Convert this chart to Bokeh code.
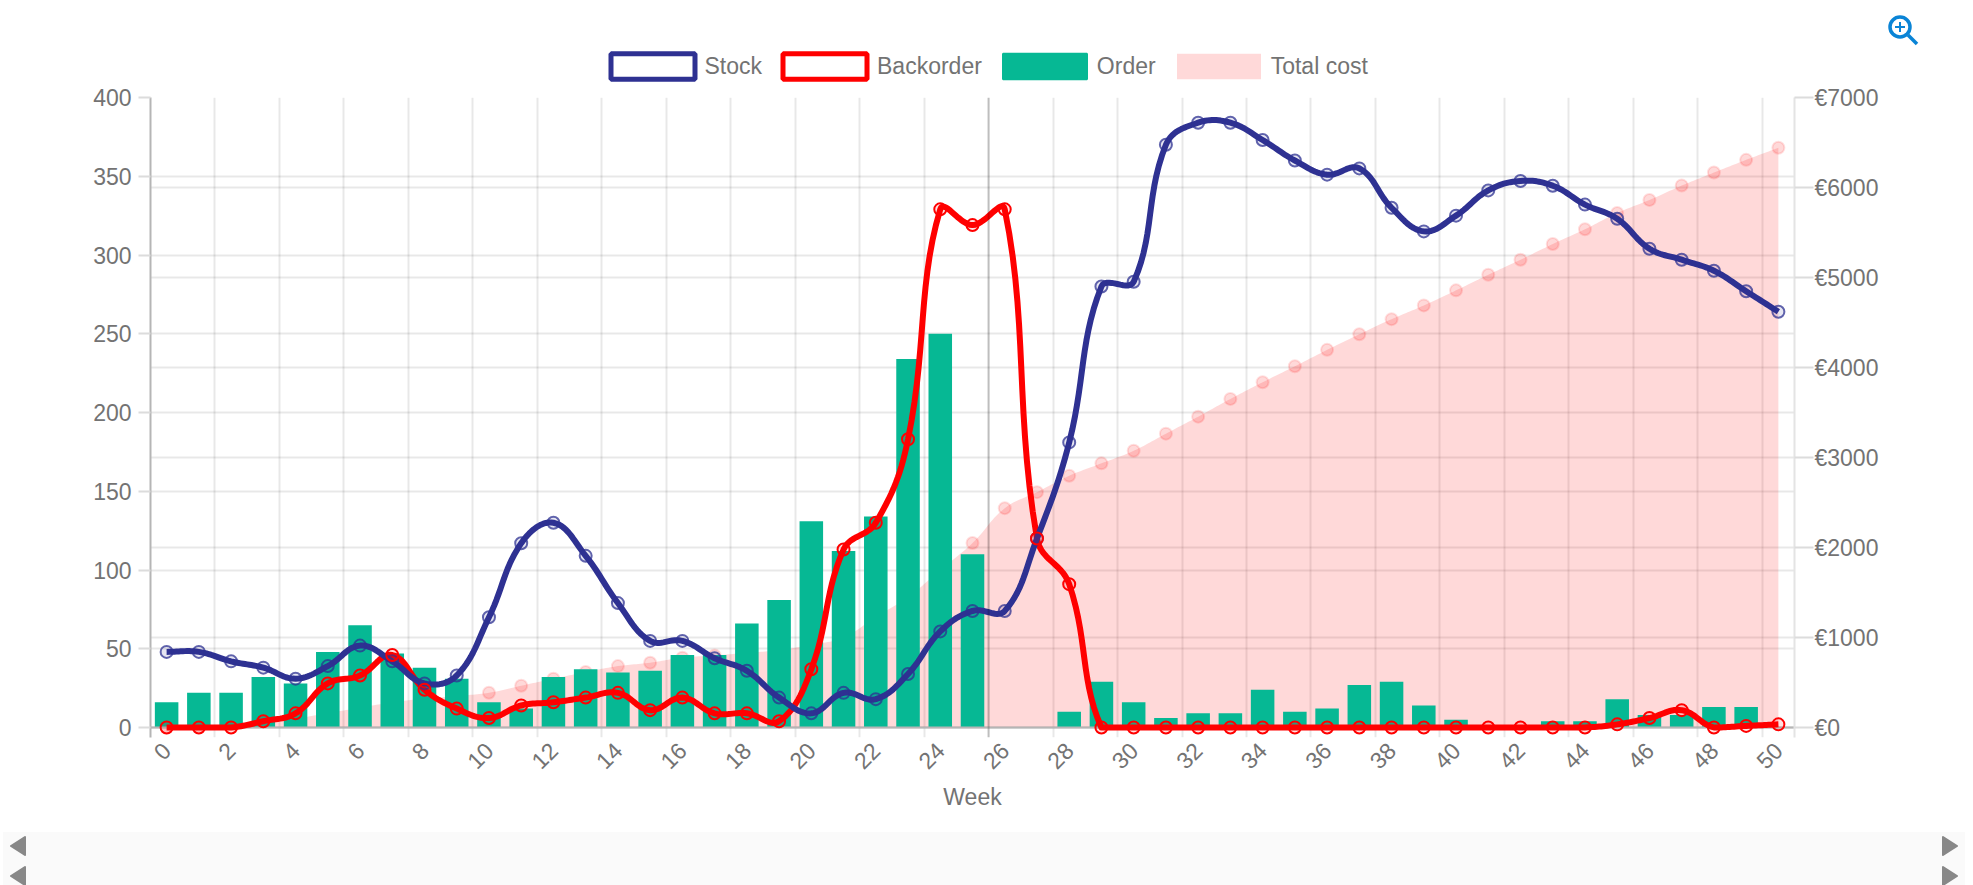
import math
from bokeh.plotting import figure
from bokeh.embed import file_html
from bokeh.resources import INLINE
from bokeh.layouts import column
from bokeh.models import (Range1d, LinearAxis, FixedTicker, Grid, Legend, LegendItem,
                          PrintfTickFormatter, Span, Div)

weeks = list(range(51))
stock = [48,48,42,38,31,39,52,42,28,33,70,117,130,109,79,55,55,44,36,19,9,22,18,34,61,74,74,120,181,280,283,370,384,384,373,360,351,355,330,315,325,341,347,344,332,323,304,297,290,277,264]
backorder = [0,0,0,4,9,28,33,46,24,12,6,14,16,19,22,11,19,9,9,4,37,113,130,183,329,319,329,120,91,0,0,0,0,0,0,0,0,0,0,0,0,0,0,0,0,2,6,11,0,1,2]
order = [16,22,22,32,28,48,65,47,38,31,16,12,32,37,35,36,46,46,66,81,131,112,134,234,250,110,0,0,10,29,16,6,9,9,24,10,12,27,29,14,5,0,0,4,4,18,8,8,13,13,0]
total_cost = [0,20,40,70,100,160,220,280,320,350,386,464,542,616,682,720,776,801,830,860,920,1000,1230,1450,1750,2050,2437,2615,2797,2935,3075,3265,3454,3651,3836,4014,4196,4370,4537,4690,4857,5031,5198,5372,5536,5717,5862,6021,6166,6307,6441]
x_tick_labels = list(range(0, 51, 2))
left_ticks = list(range(0, 401, 50))
right_ticks = list(range(0, 7001, 1000))

NAVY = "#2E3192"; RED = "#FF0000"; GREEN = "#06B894"; PINK = "#FF0000"; TXT = "#737373"; FONT = "Liberation Sans"
W, H = 1973, 885
L, T, FW, FH = 150, 97, 1644, 630
DROP = 10  # the frame runs on below zero, so marks on the zero line are whole and the grid lines act as tick marks
PXX, PXL, PXR = FW / 51, FH / 400, FH / 7000


def spline(xs, ys, sy, ymax, tension=0.4, n=14):
    """Chart.js style bezier through the data points, distances measured in pixels."""
    ctrl = []
    m = len(xs)
    for i in range(m):
        a, b = max(i - 1, 0), min(i + 1, m - 1)
        d01 = math.hypot((xs[i] - xs[a]) * PXX, (ys[i] - ys[a]) * sy)
        d12 = math.hypot((xs[b] - xs[i]) * PXX, (ys[b] - ys[i]) * sy)
        tot = d01 + d12 or 1
        fa, fb = tension * d01 / tot, tension * d12 / tot
        dx, dy = xs[b] - xs[a], ys[b] - ys[a]
        cl = lambda v: min(max(v, 0), ymax)
        ctrl.append(((xs[i] - fa * dx, cl(ys[i] - fa * dy)), (xs[i] + fb * dx, cl(ys[i] + fb * dy))))
    ox, oy = [xs[0]], [ys[0]]
    for i in range(m - 1):
        p0, p3 = (xs[i], ys[i]), (xs[i + 1], ys[i + 1])
        p1, p2 = ctrl[i][1], ctrl[i + 1][0]
        for k in range(1, n + 1):
            t = k / n; u = 1 - t
            ox.append(u**3 * p0[0] + 3 * u * u * t * p1[0] + 3 * u * t * t * p2[0] + t**3 * p3[0])
            oy.append(u**3 * p0[1] + 3 * u * u * t * p1[1] + 3 * u * t * t * p2[1] + t**3 * p3[1])
    return ox, oy


p = figure(width=W, height=H, output_backend="svg", toolbar_location=None,
           x_range=Range1d(-0.5, 50.5), y_range=Range1d(-DROP / PXL, 400), x_axis_type=None, y_axis_type=None,
           min_border_left=L, min_border_right=W - L - FW, min_border_top=T, min_border_bottom=H - T - FH - DROP,
           background_fill_color="white", border_fill_color="white", outline_line_color=None)
p.extra_y_ranges = {"cost": Range1d(-DROP / PXR, 7000)}

# axes
ax_left = LinearAxis(ticker=FixedTicker(ticks=left_ticks), major_tick_out=12, major_tick_in=0, minor_tick_out=0, minor_tick_in=0,
                     major_tick_line_color="#dcdcdc", major_tick_line_width=2, axis_line_color="#b5b5b5", axis_line_width=2,
                     major_label_text_font=FONT, major_label_text_font_size="23px", major_label_text_color=TXT, major_label_standoff=7)
p.add_layout(ax_left, "left")
ax_right = LinearAxis(y_range_name="cost", ticker=FixedTicker(ticks=right_ticks), major_tick_out=19, major_tick_in=0, minor_tick_out=0, minor_tick_in=0,
                      major_tick_line_color="#dcdcdc", major_tick_line_width=2, axis_line_color="#e4e4e4", axis_line_width=2,
                      formatter=PrintfTickFormatter(format="€%d"),
                      major_label_text_font=FONT, major_label_text_font_size="23px", major_label_text_color=TXT, major_label_standoff=1)
p.add_layout(ax_right, "right")
grid_ticks = [i - 0.5 for i in x_tick_labels]
ax_x = LinearAxis(ticker=FixedTicker(ticks=x_tick_labels), major_tick_out=0, major_tick_in=0,
                  minor_tick_out=0, minor_tick_in=0, axis_line_color=None, major_label_orientation=math.pi / 4,
                  major_label_text_font=FONT, major_label_text_font_size="23px", major_label_text_color=TXT, major_label_standoff=9,
                  axis_label="Week", axis_label_text_font=FONT, axis_label_text_font_size="23px", axis_label_text_font_style="normal",
                  axis_label_text_color=TXT, axis_label_standoff=4)
p.add_layout(ax_x, "below")

# grids
g = dict(grid_line_color="#000000", grid_line_alpha=0.09, grid_line_width=2)
p.add_layout(Grid(dimension=0, ticker=FixedTicker(ticks=grid_ticks), **g), "center")
p.add_layout(Grid(dimension=1, ticker=FixedTicker(ticks=left_ticks), **g), "center")
p.add_layout(Grid(dimension=1, ticker=FixedTicker(ticks=right_ticks), y_range_name="cost", **g), "center")
p.add_layout(Span(location=25.5, dimension="height", line_color="#000000", line_alpha=0.18, line_width=2))

# total cost
cx, cy = spline(weeks, total_cost, PXR, 7000)
p.varea(x=cx, y1=[0] * len(cy), y2=cy, y_range_name="cost", fill_color=PINK, fill_alpha=0.15)
p.scatter(weeks, total_cost, y_range_name="cost", marker="circle", size=12, fill_color=PINK, fill_alpha=0.15,
          line_color=PINK, line_alpha=0.12, line_width=2)
# order
p.vbar(x=weeks, top=order, width=0.73, fill_color=GREEN, line_color=None)
p.ray(x=[-0.5], y=[0], length=0, angle=0, line_color="#b5b5b5", line_width=2)
# backorder and stock
rx, ry = spline(weeks, backorder, PXL, 400)
p.line(rx, ry, line_color=RED, line_width=6, line_join="round")
sx, sy_ = spline(weeks, stock, PXL, 400)
p.line(sx, sy_, line_color=NAVY, line_width=6, line_join="round")
p.scatter(weeks, stock, marker="circle", size=12, fill_color=NAVY, fill_alpha=0.12, line_color=NAVY, line_alpha=0.75, line_width=2)
p.scatter(weeks, backorder, marker="circle", size=12, fill_color=RED, fill_alpha=0.12, line_color=RED, line_width=2)

# legend: its own small transparent figure laid over the top of the chart.
# The column lines its frame up with the chart's frame, so the figure carries the chart's side borders.
LEFT, TOP, LW, LH = 590, 45, 790, 45
lf = figure(width=LW + L + (W - L - FW), height=LH, output_backend="svg", toolbar_location=None, x_range=Range1d(0, 1), y_range=Range1d(0, 1),
            x_axis_type=None, y_axis_type=None, min_border=0, background_fill_color=None, border_fill_color=None,
            outline_line_color=None, margin=0,
            styles={"position": "absolute", "left": f"{LEFT - L}px", "top": f"{TOP}px", "z-index": "6", "pointer-events": "none"})
lf.grid.visible = False
nan = float("nan")
q = lambda **k: lf.quad(left=[nan], right=[nan], top=[nan], bottom=[nan], **k)
r1 = q(fill_color="white", line_color=NAVY, line_width=5)
r2 = q(fill_color="white", line_color=RED, line_width=5)
r3 = q(fill_color=GREEN, line_color=GREEN, line_width=2)
r4 = q(fill_color=PINK, fill_alpha=0.15, line_color=None)
leg = Legend(items=[LegendItem(label="Stock", renderers=[r1]), LegendItem(label="Backorder", renderers=[r2]),
                    LegendItem(label="Order", renderers=[r3]), LegendItem(label="Total cost", renderers=[r4])],
             orientation="horizontal", location=(9.5, 8), glyph_width=105, glyph_height=32, label_standoff=-8, spacing=10,
             padding=0, margin=0, border_line_color=None, background_fill_alpha=0,
             label_text_font=FONT, label_text_font_size="23px", label_text_color=TXT)
lf.add_layout(leg, "center")

# page furniture: scroll band and zoom icon, in page pixels
ICON = "#0A84D6"
tri = ""
for ya in (837, 867):
    tri += f'<path d="M1943 {ya} L1957 {ya + 9} L1943 {ya + 18} Z M25 {ya} L11 {ya + 9} L25 {ya + 18} Z" fill="#888888" stroke="#888888" stroke-width="2" stroke-linejoin="round"/>'
svg = (f'<svg xmlns="http://www.w3.org/2000/svg" width="{W}" height="{H}" style="display:block">'
       f'<rect x="3" y="832" width="1962" height="53" fill="#fafafa"/>{tri}'
       f'<circle cx="1900" cy="27" r="10" fill="none" stroke="{ICON}" stroke-width="3.5"/>'
       f'<path d="M1908 35 L1917 44" stroke="{ICON}" stroke-width="3.5"/>'
       f'<path d="M1895 27 H1905 M1900 22 V32" stroke="{ICON}" stroke-width="2"/></svg>')
furn = Div(text=svg, width=W, height=H, margin=0,
           styles={"position": "absolute", "left": "0", "top": "0", "z-index": "5", "pointer-events": "none"})

open("out.html", "w").write(file_html(column(p, furn, lf, spacing=0), INLINE))
